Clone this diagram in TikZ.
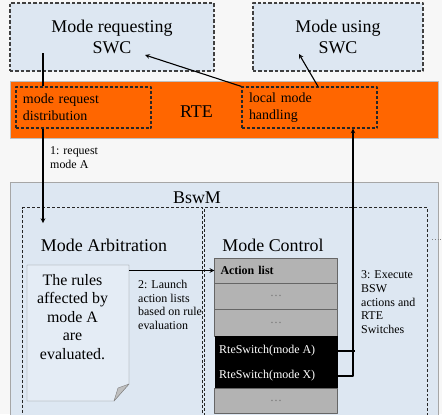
\documentclass[tikz,border=0pt]{standalone}
\usepackage{fontspec}
\setmainfont{Liberation Serif}
\definecolor{swcblue}{RGB}{221,231,242}
\definecolor{rteorange}{RGB}{255,102,0}
\definecolor{cellgray}{RGB}{179,179,179}
\definecolor{bggray}{RGB}{247,247,247}
\tikzset{
	swcbox/.style={draw=black!75, dashed, dash pattern=on 3.5pt off 2pt, line width=1.2pt, fill=swcblue, align=center, font=\fontsize{18}{21}\selectfont},
	modebox/.style={draw=black!85, dash pattern=on 3pt off 2pt, line width=1.1pt, align=left, inner xsep=7bp, font=\fontsize{14}{17}\selectfont},
	partbox/.style={draw=black!85, dash pattern=on 3pt off 2pt, line width=1.1pt, anchor=north west},
	cell/.style={draw=black!60, fill=cellgray, minimum width=123bp, text width=111bp, inner xsep=6bp, font=\fontsize{12}{14}\selectfont},
	lbl/.style={align=left, inner sep=0pt, font=\fontsize{12}{13.7}\selectfont},
	big/.style={font=\fontsize{18}{21}\selectfont}
}
\begin{document}
\begin{tikzpicture}[x=1bp, y=-1bp, >=stealth, line join=round]
	\useasboundingbox[fill=bggray] (0,0) rectangle (442,414);
	% SWC
	\node[swcbox, minimum width=204bp, minimum height=68bp] (req) at (112,37) {Mode requesting\\SWC};
	\node[swcbox, minimum width=170bp, minimum height=68bp] (use) at (338,37) {Mode using\\SWC};
	% RTE
	\node[fill=rteorange, draw=black!25, minimum width=428bp, minimum height=57bp] (rte) at (224,109.5) {};
	\node[big] (rtelbl) at (196.5,112) {RTE};
	\node[modebox, minimum width=135bp, minimum height=41bp, text width=121bp] (dist) at (83.5,107.5) {mode request\\distribution};
	\node[modebox, minimum width=135bp, minimum height=41bp, text width=121bp] (local) at (309.5,107.5) {local mode\\handling};
	% BswM
	\node[draw=black!35, fill=swcblue, minimum width=428bp, minimum height=240bp, anchor=north] (bswm) at (224,182) {};
	\node[big] (bswmlbl) at (197,198) {BswM};
	\node[partbox, minimum width=180bp, minimum height=215bp] (arb) at (22,207) {};
	\node[partbox, minimum width=223bp, minimum height=215bp] (ctrl) at (204,207) {};
	\node[big] (arblbl) at (104,245) {Mode Arbitration};
	\node[big] (ctrllbl) at (273,245) {Mode Control};
	\draw[gray, dotted, line width=0.8pt] (ctrl.north east |- 0,239) ++(4,0) -- (442,239);
	% rules note
	\draw[draw=black!50, fill=swcblue!80!white] (27,265) -- (129,265) -- (129,384) -- (114,401) -- (27,401) -- cycle;
	\draw[draw=black!50, fill=black!25] (129,384) -- (118,388) -- (114,401) -- cycle;
	\node[align=center, font=\fontsize{16}{18.5}\selectfont] (note) at (72.5,317) {The rules\\affected by\\mode A\\are\\evaluated.};
	% action list
	\node[cell, minimum height=25bp] (hdr) at (276,270.5) {\textbf{Action list}};
	\foreach \y/\n/\h in {296/ra/26, 322.5/rb/27, 400.5/rc/25}
		\node[cell, minimum height=\h bp, align=center] (\n) at (276,\y) {\textcolor{black!55}{\dots}};
	\node[fill=black, minimum width=123bp, minimum height=52bp] (sw) at (276,362) {};
	\node[anchor=west, inner sep=0pt, text=white, font=\fontsize{12}{14}\selectfont] (swA) at (219,351) {RteSwitch(mode A)};
	\node[anchor=west, inner sep=0pt, text=white, font=\fontsize{12}{14}\selectfont] (swX) at (219,376) {RteSwitch(mode X)};
	% connectors
	\coordinate (reqfoot) at (43,53);
	\coordinate (arbtip) at (43,223);
	\coordinate (reqtip) at (145,55);
	\coordinate (usetip) at (299,54);
	\coordinate (noteR) at (129,270.5);
	\coordinate (up) at (353,0);
	\draw[line width=1.1pt] (reqfoot) -- (reqfoot |- dist.north);
	\draw[->, line width=1.1pt] (reqfoot |- dist.south) -- (arbtip);
	\draw[->, line width=1.1pt] (local.north west) -- (reqtip);
	\draw[->, line width=1.1pt] ([xshift=8.5bp]local.north) -- (usetip);
	\draw[->, line width=1.1pt] (noteR) -- (hdr.west);
	\draw[line width=1.1pt] (sw.east |- swA) -- (up |- swA) -- ++(2,0);
	\draw[->, line width=1.1pt] (sw.east |- swX) -| (up |- local.south);
	% labels (base = last line)
	\node[lbl, anchor=base west] (l1) at (50,168.5) {1: request\\mode A};
	\node[lbl, anchor=base west] (l2) at (138,329.5) {2: Launch\\action lists\\based on rule\\evaluation};
	\node[lbl, anchor=base west] (l3) at (361,333.5) {3: Execute\\BSW\\actions and\\RTE\\Switches};
\end{tikzpicture}
\end{document}
